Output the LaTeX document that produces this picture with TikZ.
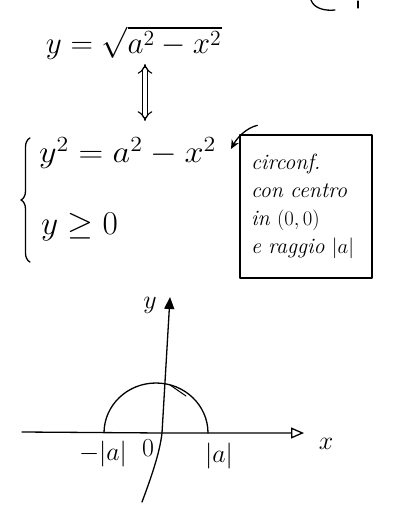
\documentclass[tikz,border=0pt]{standalone}
\usetikzlibrary{arrows.meta,decorations.pathreplacing}
\begin{document}
\begin{tikzpicture}[x=1pt,y=-1pt,line width=1.3pt,line cap=round,line join=round,
  big/.style={font=\huge,scale=1.5,inner sep=0pt},
  note/.style={draw,line width=1.3pt,minimum width=132pt,minimum height=143pt,inner sep=0pt,
    font=\fontsize{22}{28}\selectfont\itshape,align=left,text width=110pt},
  lab/.style={font=\huge,scale=1.25,inner sep=0pt}]
\useasboundingbox (0,0) rectangle (394,510);
% fragment in the top right corner
\draw (311,0) .. controls (314,9) and (326,11) .. (335,10);
\draw (358,1) -- (358,8);
% equations
\node[big,anchor=base west] (eq1) at (45,54) {$y = \sqrt{a^2-x^2}$};
\coordinate (ua) at (145,64);
\coordinate (da) at (145,121);
\draw[double,double distance=4pt,line width=1.1pt,{Implies}-{Implies}] (ua) -- (da);
\node[big,anchor=base west,xscale=1.1] (sys1) at (38,163) {$y^2 = a^2-x^2$};
\node[big,anchor=base west,scale=1.07] (sys2) at (40,234) {$y \geq 0$};
\coordinate (bt) at (30,138);
\coordinate (bb) at (30,262);
\draw[decorate,decoration={brace,amplitude=9pt}] (bb) -- (bt);
% note box
\node[note] (box) at (306,206.5) {circonf.\\con centro\\in $(0,0)$\\e raggio $|a|$};
\coordinate (ns) at ([shift={(18,-9)}]box.north west);
\coordinate (ne) at (231,149);
\draw[-{Stealth[length=9pt,width=8pt]}] (ns) .. controls (246,128) and (237,138) .. (ne);
% axes
\coordinate (O) at (162,433);
\coordinate (xl) at (22,432);
\coordinate (xr) at (304,433);
\coordinate (yb) at (142,502);
\coordinate (yt) at (170,297);
\draw[-{Triangle[open,length=13pt,width=11pt]}] (xl) -- (O) -- (xr);
\draw[-{Triangle[length=12pt,width=10pt]}] (yb) .. controls (154,470) and (160,450) .. (O) -- (yt);
\node[lab] (xlab) at (326,444) {$x$};
\node[lab] (ylab) at (150,305) {$y$};
\node[lab] (olab) at (148,448) {$0$};
\node[lab] (ma) at (103,454) {$-|a|$};
\node[lab] (pa) at (219,456) {$|a|$};
% semicircle
\draw (104,433) arc[start angle=180,end angle=360,x radius=52,y radius=50];
\draw[line width=1pt] (170,385) -- (186,396);
\end{tikzpicture}
\end{document}
